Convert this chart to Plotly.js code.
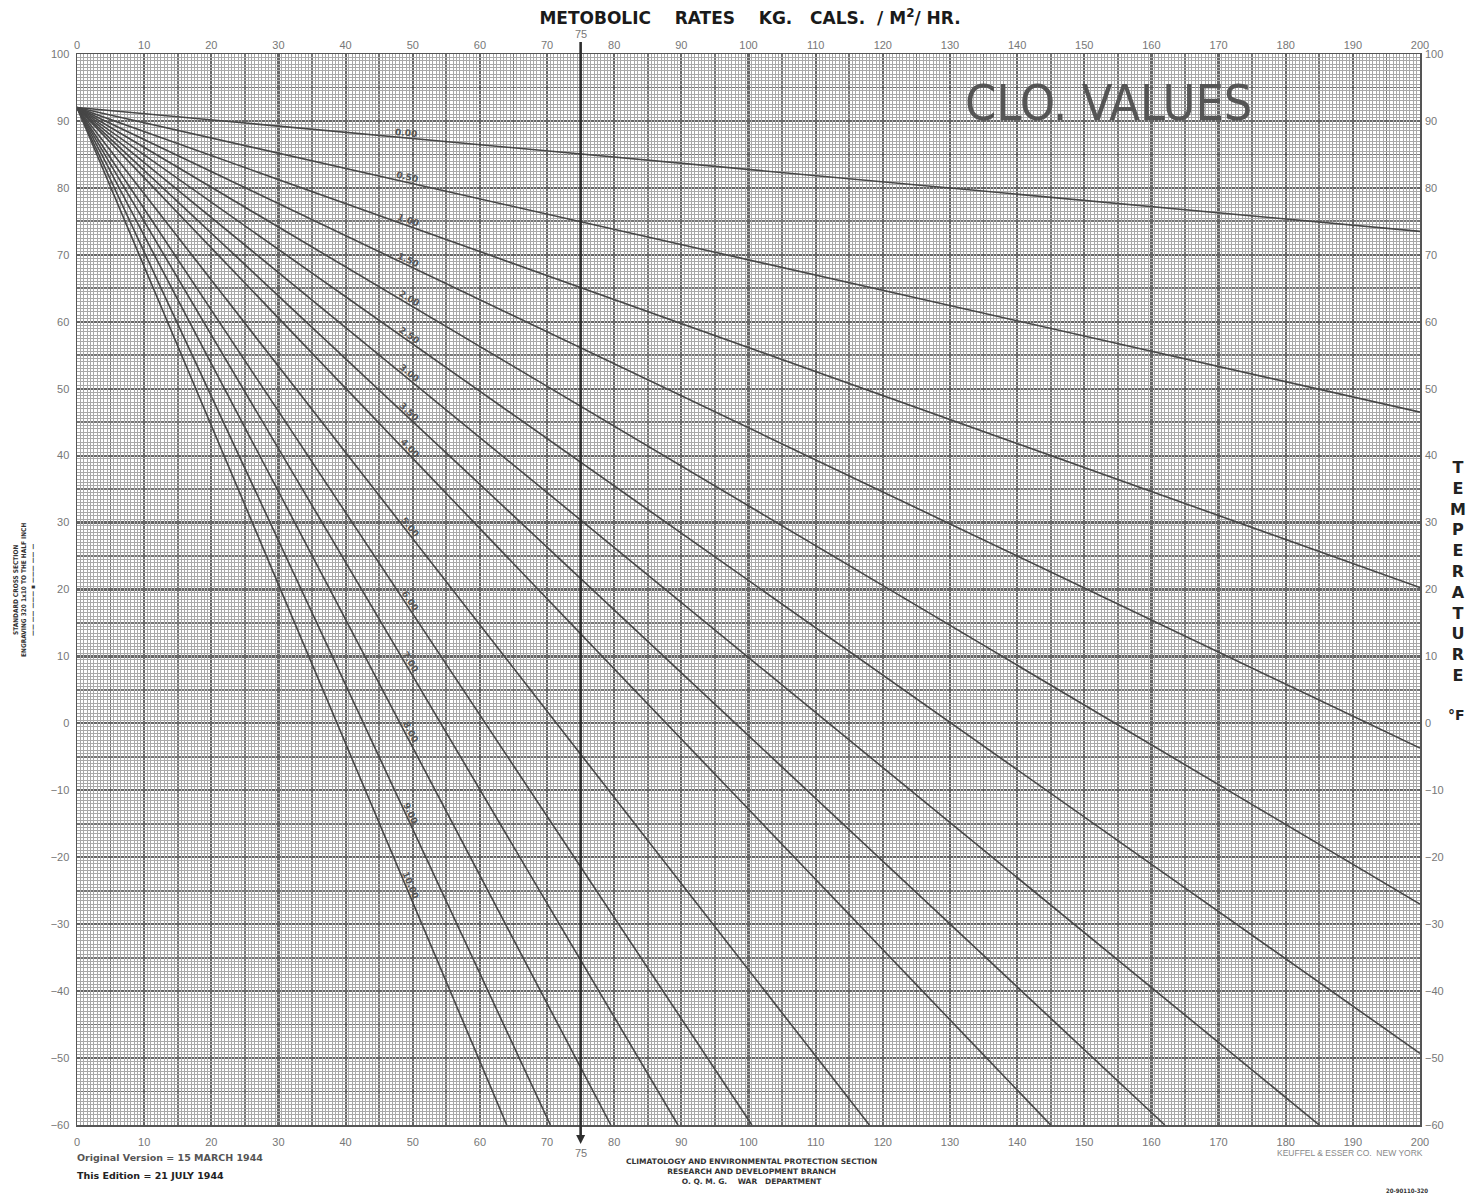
<!DOCTYPE html>
<html><head><meta charset="utf-8">
<script src="https://cdn.plot.ly/plotly-3.0.1.min.js"></script>
<style>html,body{margin:0;padding:0;background:#fff}</style>
</head><body>
<div id="chart" style="width:1467px;height:1198px"></div>
<script>
// ---- data ----
const cloLabels = ['0.00','0.50','1.00','1.50','2.00','2.50','3.00','3.50','4.00','5.00','6.00','7.00','8.00','9.00','10.00'];
const startRate = 0;
const startTemp = 92;
const endRate = [200, 200, 200, 200, 200, 200, 185, 162, 145, 118, 100.5, 89.5, 79.5, 70.5, 64];
const endTemp = [73.5, 46.5, 20.3, -3.7, -27, -49.3, -60, -60, -60, -60, -60, -60, -60, -60, -60];
const xTickVals = [0,10,20,30,40,50,60,70,80,90,100,110,120,130,140,150,160,170,180,190,200];
const yTickVals = [-60,-50,-40,-30,-20,-10,0,10,20,30,40,50,60,70,80,90,100];
const markRate = 75;
const labelRate = 49;
const xRange = [0, 200];
const yRange = [-60, 100];

// ---- layout constants ----
const W = 1467, H = 1198;
const M = {l: 77, r: 47, t: 54, b: 73};
const plotW = W - M.l - M.r, plotH = H - M.t - M.b;
const pxX = plotW / (xRange[1] - xRange[0]);
const pxY = plotH / (yRange[1] - yRange[0]);

const lineColor = '#474747';
const tickFont = {family: 'Liberation Sans, Arial, sans-serif', size: 11, color: '#777'};

// fine grid every 0.5 unit, skipping the 5-unit lines (drawn darker)
const fineStep = 0.5, midStep = 5;
function fineVals(r) {
  const out = [];
  for (let k = Math.round(r[0] / fineStep); k <= Math.round(r[1] / fineStep); k++) {
    const v = k * fineStep;
    if (Math.abs(v / midStep - Math.round(v / midStep)) > 1e-6) out.push(v);
  }
  return out;
}
const fineX = fineVals(xRange), fineY = fineVals(yRange);

const traces = cloLabels.map((lab, i) => ({
  type: 'scatter', mode: 'lines', name: lab,
  x: [startRate, endRate[i]], y: [startTemp, endTemp[i]],
  line: {color: lineColor, width: 1.6},
  hoverinfo: 'skip', showlegend: false
}));
// dummy traces to activate the extra axes
traces.push({type:'scatter', mode:'lines', x:[xRange[0]], y:[yRange[0]], xaxis:'x2', yaxis:'y2', showlegend:false, hoverinfo:'skip', line:{width:0}});
traces.push({type:'scatter', mode:'lines', x:[xRange[0]], y:[yRange[0]], xaxis:'x3', yaxis:'y3', showlegend:false, hoverinfo:'skip', line:{width:0}});

const annotations = [];
cloLabels.forEach((lab, i) => {
  const slope = (endTemp[i] - startTemp) / (endRate[i] - startRate);
  const ly = startTemp + slope * (labelRate - startRate);
  const theta = Math.atan(-slope * pxY / pxX);
  const off = 5;
  annotations.push({
    x: labelRate, y: ly, xref: 'x', yref: 'y', xanchor: 'center', yanchor: 'middle', text: lab, showarrow: false,
    textangle: theta * 180 / Math.PI,
    xshift: off * Math.sin(theta), yshift: off * Math.cos(theta),
    font: {family: 'DejaVu Sans, sans-serif', size: 9, color: '#555', weight: 'bold'}
  });
});

// 75 marks
annotations.push({x: markRate, xref: 'x', xanchor: 'center', y: 1, yref: 'paper', yanchor: 'bottom', yshift: 12, text: String(markRate), showarrow: false, font: tickFont});
annotations.push({x: markRate, xref: 'x', xanchor: 'center', y: 0, yref: 'paper', yanchor: 'top', yshift: -20, text: String(markRate), showarrow: false, font: tickFont});

// CLO. VALUES
annotations.push({x: (1108 - M.l)/plotW, xref: 'paper', xanchor: 'center', y: 1 - (103 - M.t)/plotH, yref: 'paper', yanchor: 'middle',
  text: 'CLO. VALUES', showarrow: false,
  font: {family: 'DejaVu Sans Condensed, Liberation Sans Narrow, sans-serif', size: 50, color: '#555'}});

// TEMPERATURE vertical
annotations.push({x: (1458 - M.l)/plotW, xref: 'paper', xanchor: 'center', y: 1 - (571 - M.t)/plotH, yref: 'paper', yanchor: 'middle',
  text: 'T<br>E<br>M<br>P<br>E<br>R<br>A<br>T<br>U<br>R<br>E', showarrow: false,
  font: {family: 'DejaVu Sans, sans-serif', size: 16, color: '#222', weight: 'bold'}});
annotations.push({x: (1456 - M.l)/plotW, xref: 'paper', xanchor: 'center', y: 1 - (715 - M.t)/plotH, yref: 'paper', yanchor: 'middle',
  text: '°F', showarrow: false, font: {family: 'DejaVu Sans, sans-serif', size: 14, color: '#222', weight: 'bold'}});

// left vertical small print
annotations.push({x: (24 - M.l)/plotW, xref: 'paper', xanchor: 'center', y: 1 - (590 - M.t)/plotH, yref: 'paper', yanchor: 'middle', textangle: -90,
  text: 'STANDARD CROSS SECTION<br>ENGRAVING 320 1x10 TO THE HALF INCH<br>—— —— ——— ▪ ——— —— —', showarrow: false,
  font: {family: 'DejaVu Sans Condensed, DejaVu Sans, sans-serif', size: 6.5, color: '#333', weight: 'bold'}});

// bottom-left
const smallBold = (size, color) => ({family: 'DejaVu Sans, sans-serif', size: size, color: color, weight: 'bold'});
annotations.push({x: (75 - M.l)/plotW, xref: 'paper', xanchor: 'left', y: -(1158 - M.t - plotH)/plotH, yref: 'paper', yanchor: 'middle',
  text: 'Original Version = 15 MARCH 1944', showarrow: false, font: smallBold(9.5, '#555')});
annotations.push({x: (75 - M.l)/plotW, xref: 'paper', xanchor: 'left', y: -(1175 - M.t - plotH)/plotH, yref: 'paper', yanchor: 'middle',
  text: 'This Edition = 21 JULY 1944', showarrow: false, font: smallBold(9.5, '#222')});

// bottom-center
annotations.push({x: (752 - M.l)/plotW, xref: 'paper', xanchor: 'center', y: -(1171 - M.t - plotH)/plotH, yref: 'paper', yanchor: 'middle',
  text: 'CLIMATOLOGY AND ENVIRONMENTAL PROTECTION SECTION<br>RESEARCH AND DEVELOPMENT BRANCH<br>O. Q. M. G.&nbsp;&nbsp;&nbsp;&nbsp;WAR&nbsp;&nbsp;&nbsp;DEPARTMENT', showarrow: false,
  font: smallBold(7.5, '#333')});

// bottom-right
annotations.push({x: (1425 - M.l)/plotW, xref: 'paper', xanchor: 'right', y: -(1153 - M.t - plotH)/plotH, yref: 'paper', yanchor: 'middle',
  text: 'KEUFFEL &amp; ESSER CO.&nbsp;&nbsp;NEW YORK', showarrow: false, font: {family: 'Liberation Sans, sans-serif', size: 8.5, color: '#888'}});
annotations.push({x: (1430 - M.l)/plotW, xref: 'paper', xanchor: 'right', y: -(1190 - M.t - plotH)/plotH, yref: 'paper', yanchor: 'middle',
  text: '20-90110-320', showarrow: false, font: {family: 'DejaVu Sans Condensed, sans-serif', size: 6, color: '#333', weight: 'bold'}});

const baseAxis = {
  showline: true, mirror: true, linecolor: '#555', linewidth: 1.5,
  zeroline: false, ticks: '', tickfont: tickFont, fixedrange: true
};
const midGrid = {tickmode: 'linear', tick0: 0, dtick: midStep, showgrid: true, gridcolor: '#777', gridwidth: 1.7, ticks: ''};

const layout = {
  width: W, height: H, margin: M,
  paper_bgcolor: '#fff', plot_bgcolor: '#fff',
  showlegend: false,
  title: {
    text: 'METOBOLIC\u00a0\u00a0\u00a0\u00a0RATES\u00a0\u00a0\u00a0\u00a0KG.\u00a0\u00a0\u00a0CALS.\u00a0\u00a0/ M<sup>2</sup>/ HR.',
    font: {family: 'DejaVu Sans, sans-serif', size: 17, color: '#1a1a1a', weight: 'bold'},
    x: 750 / W, xref: 'container', xanchor: 'center', y: 1 - 18 / H, yref: 'container', yanchor: 'middle'
  },
  xaxis: Object.assign({}, baseAxis, {
    range: xRange, tickmode: 'array', tickvals: xTickVals,
    showgrid: true, gridcolor: '#666', gridwidth: 2.2, ticklabelstandoff: 6, minor: midGrid
  }),
  yaxis: Object.assign({}, baseAxis, {
    range: yRange, tickmode: 'array', tickvals: yTickVals,
    showgrid: true, gridcolor: '#666', gridwidth: 2.2, ticklabelstandoff: 4, minor: midGrid
  }),
  xaxis2: Object.assign({}, baseAxis, {
    range: xRange, overlaying: 'x', side: 'top', anchor: 'y2', tickmode: 'array', tickvals: xTickVals,
    showgrid: false, showline: false, ticklabelstandoff: 2
  }),
  yaxis2: Object.assign({}, baseAxis, {
    range: yRange, overlaying: 'y', side: 'right', anchor: 'x2', tickmode: 'array', tickvals: yTickVals,
    showgrid: false, showline: false, ticklabelstandoff: 4
  }),
  xaxis3: {
    range: xRange, overlaying: 'x', anchor: 'y3', tickmode: 'array', tickvals: fineX, showticklabels: false,
    showgrid: true, gridcolor: '#a8a8a8', gridwidth: 1, showline: false, zeroline: false, ticks: '', fixedrange: true
  },
  yaxis3: {
    range: yRange, overlaying: 'y', anchor: 'x3', tickmode: 'array', tickvals: fineY, showticklabels: false,
    showgrid: true, gridcolor: '#a8a8a8', gridwidth: 1, showline: false, zeroline: false, ticks: '', fixedrange: true
  },
  shapes: [
    {type: 'line', xref: 'x', yref: 'paper', x0: markRate, x1: markRate,
     y0: -14 / plotH, y1: 1 + 12 / plotH, line: {color: '#2e2e2e', width: 2.6}},
    {type: 'path', xref: 'x', yref: 'paper', xsizemode: 'pixel', ysizemode: 'pixel', xanchor: markRate, yanchor: 0,
     path: 'M -4.5 -10 L 4.5 -10 L 0 -19 Z', fillcolor: '#2e2e2e', line: {width: 0}}
  ],
  annotations: annotations
};

Plotly.newPlot('chart', traces, layout, {displayModeBar: false, staticPlot: true});
</script>
</body></html>
